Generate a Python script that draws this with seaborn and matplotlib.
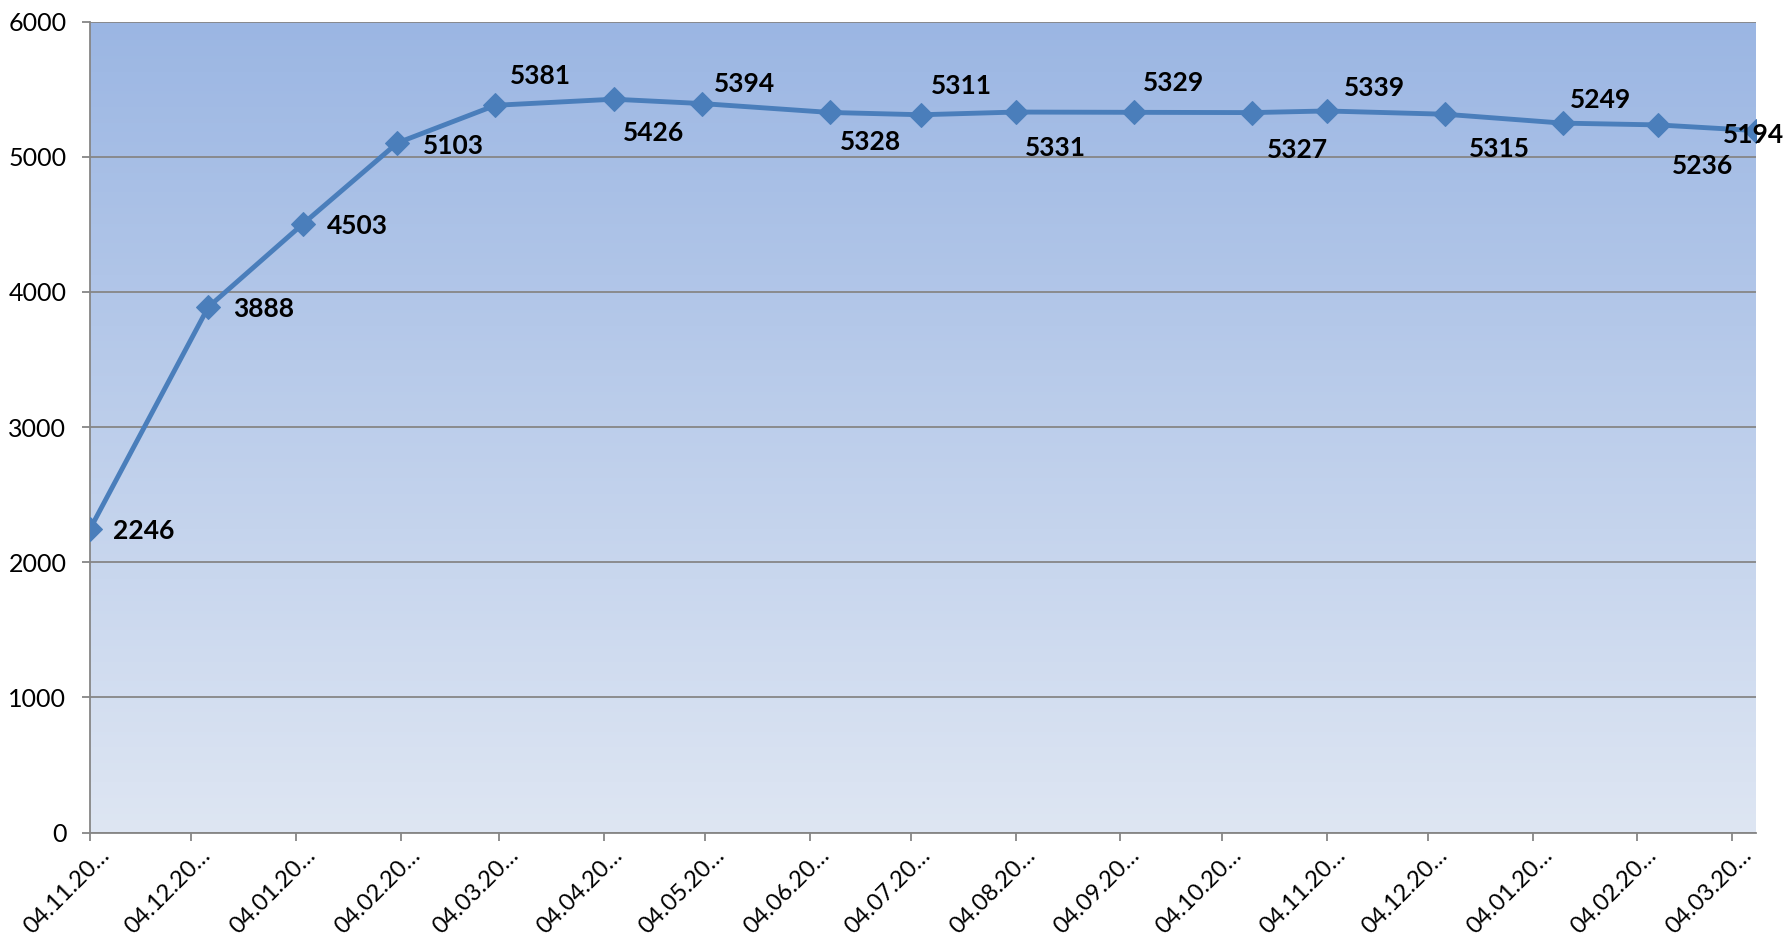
import matplotlib
matplotlib.use("Agg")
import numpy as np
import pandas as pd
import seaborn as sns
import matplotlib.pyplot as plt
import matplotlib.dates as mdates
from matplotlib.colors import LinearSegmentedColormap
from matplotlib.transforms import ScaledTranslation

# ---------------- data ----------------
dates = ["2011-11-04", "2011-12-09", "2012-01-06", "2012-02-03", "2012-03-03",
         "2012-04-07", "2012-05-03", "2012-06-10", "2012-07-07", "2012-08-04",
         "2012-09-08", "2012-10-13", "2012-11-04", "2012-12-09", "2013-01-13",
         "2013-02-10", "2013-03-11"]
values = [2246, 3888, 4503, 5103, 5381, 5426, 5394, 5328, 5311, 5331,
          5329, 5327, 5339, 5315, 5249, 5236, 5194]

tick_dates = ["2011-11-04", "2011-12-04", "2012-01-04", "2012-02-04", "2012-03-04",
              "2012-04-04", "2012-05-04", "2012-06-04", "2012-07-04", "2012-08-04",
              "2012-09-04", "2012-10-04", "2012-11-04", "2012-12-04", "2013-01-04",
              "2013-02-04", "2013-03-04"]
tick_labels = ["04.11.20…", "04.12.20…", "04.01.20…", "04.02.20…", "04.03.20…",
               "04.04.20…", "04.05.20…", "04.06.20…", "04.07.20…", "04.08.20…",
               "04.09.20…", "04.10.20…", "04.11.20…", "04.12.20…", "04.01.20…",
               "04.02.20…", "04.03.20…"]
y_ticks = [0, 1000, 2000, 3000, 4000, 5000, 6000]

# ---------------- style ----------------
label_offsets = [(54, -2), (55, -2), (55, -2), (56, -3), (45, 29), (40, -34),
                 (43, 20), (41, -30), (40, 29), (40, -36), (40, 29), (45, -37),
                 (48, 23), (55, -35), (37, 23), (45, -41), (-2, -4)]
line_color = "#4A7EBB"
grid_color = "#868686"
top_color = "#9BB6E3"
bottom_color = "#DEE6F3"

sns.set_theme(style="white")
plt.rcParams["font.family"] = ["Lato", "DejaVu Sans"]

fig = plt.figure(figsize=(17.86, 9.36), dpi=100)
rect = [0.0504, 0.1104, 0.9326, 0.8665]

bg = fig.add_axes(rect, zorder=0)
grad = np.linspace(0, 1, 256).reshape(-1, 1)
cmap = LinearSegmentedColormap.from_list("bg", [bottom_color, top_color])
bg.imshow(grad, aspect="auto", cmap=cmap, origin="lower", extent=[0, 1, 0, 1])
bg.axis("off")

ax = fig.add_axes(rect, zorder=1)
ax.set_facecolor("none")

df = pd.DataFrame({"date": pd.to_datetime(dates), "value": values})
sns.lineplot(data=df, x="date", y="value", ax=ax, color=line_color,
             linewidth=3.5, marker="D", markersize=12,
             markeredgecolor=line_color, markerfacecolor=line_color, zorder=3)

ax.set_ylim(0, 6000)
ax.set_yticks(y_ticks)
ax.set_xlim(df["date"].min(), df["date"].max())
ax.set_xticks(pd.to_datetime(tick_dates))
ax.set_xticklabels(tick_labels, rotation=45, ha="right", va="center",
                   rotation_mode="anchor")
ax.set_xlabel("")
ax.set_ylabel("")

ax.yaxis.grid(True, color=grid_color, linewidth=1.3)
ax.xaxis.grid(False)
ax.set_axisbelow(True)

for s in ["top", "right"]:
    ax.spines[s].set_visible(False)
for s in ["left", "bottom"]:
    ax.spines[s].set_color(grid_color)
    ax.spines[s].set_linewidth(1.3)

ax.tick_params(axis="both", which="major", direction="out", length=6,
               width=1.3, color=grid_color, labelcolor="black",
               bottom=True, left=True)
ax.tick_params(axis="y", pad=11, labelsize=18)
ax.tick_params(axis="x", pad=8, labelsize=17)

shift = ScaledTranslation(0.16, 0, fig.dpi_scale_trans)
for lab in ax.get_xticklabels():
    lab.set_transform(lab.get_transform() + shift)

for d, v, off in zip(df["date"], values, label_offsets):
    ax.annotate(str(v), (mdates.date2num(d), v), xytext=off,
                textcoords="offset pixels", ha="center", va="center",
                fontsize=19, fontweight="bold", color="black",
                annotation_clip=False, zorder=5)

fig.savefig("out.png", dpi=100)
